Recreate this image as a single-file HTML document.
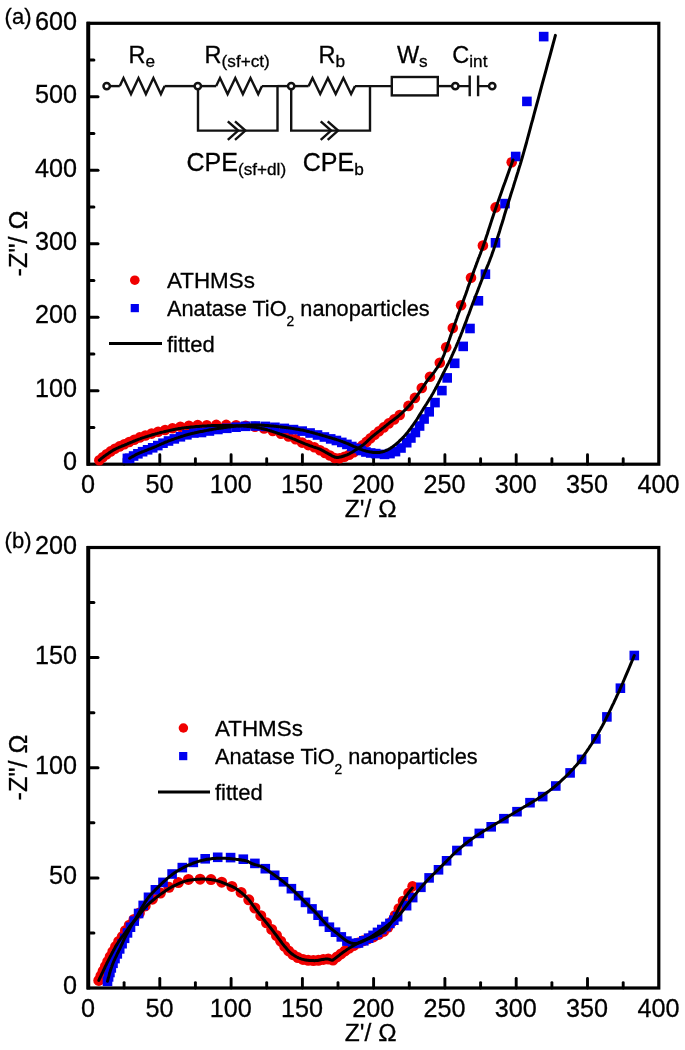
<!DOCTYPE html>
<html><head><meta charset="utf-8"><title>EIS Nyquist plots</title>
<style>
html,body{margin:0;padding:0;background:#fff;}
body{width:685px;height:1050px;overflow:hidden;font-family:"Liberation Sans",sans-serif;}
svg{display:block;will-change:transform;}
text{fill:#000;stroke:#000;stroke-width:0.3px;}
</style></head><body>
<svg width="685" height="1050" viewBox="0 0 685 1050">
<rect width="685" height="1050" fill="#fff"/>
<!-- axes -->
<rect x="88.5" y="23.3" width="570.3" height="440.9" fill="none" stroke="#000" stroke-width="3.2"/><line x1="88.2" y1="21.7" x2="88.2" y2="465.8" stroke="#000" stroke-width="3.9"/><text x="88.1" y="493.4" text-anchor="middle" font-size="25.2" font-family="Liberation Sans, sans-serif">0</text><line x1="124.1" y1="464.2" x2="124.1" y2="458.8" stroke="#000" stroke-width="2.9" stroke-linecap="round"/><line x1="159.8" y1="464.2" x2="159.8" y2="454.7" stroke="#000" stroke-width="2.9" stroke-linecap="round"/><text x="159.4" y="493.4" text-anchor="middle" font-size="25.2" font-family="Liberation Sans, sans-serif">50</text><line x1="195.4" y1="464.2" x2="195.4" y2="458.8" stroke="#000" stroke-width="2.9" stroke-linecap="round"/><line x1="231.1" y1="464.2" x2="231.1" y2="454.7" stroke="#000" stroke-width="2.9" stroke-linecap="round"/><text x="230.7" y="493.4" text-anchor="middle" font-size="25.2" font-family="Liberation Sans, sans-serif">100</text><line x1="266.7" y1="464.2" x2="266.7" y2="458.8" stroke="#000" stroke-width="2.9" stroke-linecap="round"/><line x1="302.4" y1="464.2" x2="302.4" y2="454.7" stroke="#000" stroke-width="2.9" stroke-linecap="round"/><text x="302.0" y="493.4" text-anchor="middle" font-size="25.2" font-family="Liberation Sans, sans-serif">150</text><line x1="338.0" y1="464.2" x2="338.0" y2="458.8" stroke="#000" stroke-width="2.9" stroke-linecap="round"/><line x1="373.6" y1="464.2" x2="373.6" y2="454.7" stroke="#000" stroke-width="2.9" stroke-linecap="round"/><text x="373.2" y="493.4" text-anchor="middle" font-size="25.2" font-family="Liberation Sans, sans-serif">200</text><line x1="409.3" y1="464.2" x2="409.3" y2="458.8" stroke="#000" stroke-width="2.9" stroke-linecap="round"/><line x1="444.9" y1="464.2" x2="444.9" y2="454.7" stroke="#000" stroke-width="2.9" stroke-linecap="round"/><text x="444.5" y="493.4" text-anchor="middle" font-size="25.2" font-family="Liberation Sans, sans-serif">250</text><line x1="480.6" y1="464.2" x2="480.6" y2="458.8" stroke="#000" stroke-width="2.9" stroke-linecap="round"/><line x1="516.2" y1="464.2" x2="516.2" y2="454.7" stroke="#000" stroke-width="2.9" stroke-linecap="round"/><text x="515.8" y="493.4" text-anchor="middle" font-size="25.2" font-family="Liberation Sans, sans-serif">300</text><line x1="551.9" y1="464.2" x2="551.9" y2="458.8" stroke="#000" stroke-width="2.9" stroke-linecap="round"/><line x1="587.5" y1="464.2" x2="587.5" y2="454.7" stroke="#000" stroke-width="2.9" stroke-linecap="round"/><text x="587.1" y="493.4" text-anchor="middle" font-size="25.2" font-family="Liberation Sans, sans-serif">350</text><line x1="623.2" y1="464.2" x2="623.2" y2="458.8" stroke="#000" stroke-width="2.9" stroke-linecap="round"/><text x="658.4" y="493.4" text-anchor="middle" font-size="25.2" font-family="Liberation Sans, sans-serif">400</text><text x="77.0" y="470.4" text-anchor="end" font-size="25.2" font-family="Liberation Sans, sans-serif">0</text><line x1="88.5" y1="427.5" x2="93.9" y2="427.5" stroke="#000" stroke-width="3.0" stroke-linecap="round"/><line x1="88.5" y1="390.7" x2="98.0" y2="390.7" stroke="#000" stroke-width="3.0" stroke-linecap="round"/><text x="77.0" y="396.9" text-anchor="end" font-size="25.2" font-family="Liberation Sans, sans-serif">100</text><line x1="88.5" y1="354.0" x2="93.9" y2="354.0" stroke="#000" stroke-width="3.0" stroke-linecap="round"/><line x1="88.5" y1="317.2" x2="98.0" y2="317.2" stroke="#000" stroke-width="3.0" stroke-linecap="round"/><text x="77.0" y="323.4" text-anchor="end" font-size="25.2" font-family="Liberation Sans, sans-serif">200</text><line x1="88.5" y1="280.5" x2="93.9" y2="280.5" stroke="#000" stroke-width="3.0" stroke-linecap="round"/><line x1="88.5" y1="243.8" x2="98.0" y2="243.8" stroke="#000" stroke-width="3.0" stroke-linecap="round"/><text x="77.0" y="249.9" text-anchor="end" font-size="25.2" font-family="Liberation Sans, sans-serif">300</text><line x1="88.5" y1="207.0" x2="93.9" y2="207.0" stroke="#000" stroke-width="3.0" stroke-linecap="round"/><line x1="88.5" y1="170.3" x2="98.0" y2="170.3" stroke="#000" stroke-width="3.0" stroke-linecap="round"/><text x="77.0" y="176.5" text-anchor="end" font-size="25.2" font-family="Liberation Sans, sans-serif">400</text><line x1="88.5" y1="133.5" x2="93.9" y2="133.5" stroke="#000" stroke-width="3.0" stroke-linecap="round"/><line x1="88.5" y1="96.8" x2="98.0" y2="96.8" stroke="#000" stroke-width="3.0" stroke-linecap="round"/><text x="77.0" y="103.0" text-anchor="end" font-size="25.2" font-family="Liberation Sans, sans-serif">500</text><line x1="88.5" y1="60.0" x2="93.9" y2="60.0" stroke="#000" stroke-width="3.0" stroke-linecap="round"/><text x="77.0" y="29.5" text-anchor="end" font-size="25.2" font-family="Liberation Sans, sans-serif">600</text>
<rect x="88.5" y="547.5" width="570.3" height="440.5" fill="none" stroke="#000" stroke-width="3.2"/><line x1="88.2" y1="545.9" x2="88.2" y2="989.6" stroke="#000" stroke-width="3.9"/><text x="88.1" y="1017.2" text-anchor="middle" font-size="25.2" font-family="Liberation Sans, sans-serif">0</text><line x1="124.1" y1="988.0" x2="124.1" y2="982.6" stroke="#000" stroke-width="2.9" stroke-linecap="round"/><line x1="159.8" y1="988.0" x2="159.8" y2="978.5" stroke="#000" stroke-width="2.9" stroke-linecap="round"/><text x="159.4" y="1017.2" text-anchor="middle" font-size="25.2" font-family="Liberation Sans, sans-serif">50</text><line x1="195.4" y1="988.0" x2="195.4" y2="982.6" stroke="#000" stroke-width="2.9" stroke-linecap="round"/><line x1="231.1" y1="988.0" x2="231.1" y2="978.5" stroke="#000" stroke-width="2.9" stroke-linecap="round"/><text x="230.7" y="1017.2" text-anchor="middle" font-size="25.2" font-family="Liberation Sans, sans-serif">100</text><line x1="266.7" y1="988.0" x2="266.7" y2="982.6" stroke="#000" stroke-width="2.9" stroke-linecap="round"/><line x1="302.4" y1="988.0" x2="302.4" y2="978.5" stroke="#000" stroke-width="2.9" stroke-linecap="round"/><text x="302.0" y="1017.2" text-anchor="middle" font-size="25.2" font-family="Liberation Sans, sans-serif">150</text><line x1="338.0" y1="988.0" x2="338.0" y2="982.6" stroke="#000" stroke-width="2.9" stroke-linecap="round"/><line x1="373.6" y1="988.0" x2="373.6" y2="978.5" stroke="#000" stroke-width="2.9" stroke-linecap="round"/><text x="373.2" y="1017.2" text-anchor="middle" font-size="25.2" font-family="Liberation Sans, sans-serif">200</text><line x1="409.3" y1="988.0" x2="409.3" y2="982.6" stroke="#000" stroke-width="2.9" stroke-linecap="round"/><line x1="444.9" y1="988.0" x2="444.9" y2="978.5" stroke="#000" stroke-width="2.9" stroke-linecap="round"/><text x="444.5" y="1017.2" text-anchor="middle" font-size="25.2" font-family="Liberation Sans, sans-serif">250</text><line x1="480.6" y1="988.0" x2="480.6" y2="982.6" stroke="#000" stroke-width="2.9" stroke-linecap="round"/><line x1="516.2" y1="988.0" x2="516.2" y2="978.5" stroke="#000" stroke-width="2.9" stroke-linecap="round"/><text x="515.8" y="1017.2" text-anchor="middle" font-size="25.2" font-family="Liberation Sans, sans-serif">300</text><line x1="551.9" y1="988.0" x2="551.9" y2="982.6" stroke="#000" stroke-width="2.9" stroke-linecap="round"/><line x1="587.5" y1="988.0" x2="587.5" y2="978.5" stroke="#000" stroke-width="2.9" stroke-linecap="round"/><text x="587.1" y="1017.2" text-anchor="middle" font-size="25.2" font-family="Liberation Sans, sans-serif">350</text><line x1="623.2" y1="988.0" x2="623.2" y2="982.6" stroke="#000" stroke-width="2.9" stroke-linecap="round"/><text x="658.4" y="1017.2" text-anchor="middle" font-size="25.2" font-family="Liberation Sans, sans-serif">400</text><text x="77.0" y="994.2" text-anchor="end" font-size="25.2" font-family="Liberation Sans, sans-serif">0</text><line x1="88.5" y1="932.9" x2="93.9" y2="932.9" stroke="#000" stroke-width="3.0" stroke-linecap="round"/><line x1="88.5" y1="877.9" x2="98.0" y2="877.9" stroke="#000" stroke-width="3.0" stroke-linecap="round"/><text x="77.0" y="884.1" text-anchor="end" font-size="25.2" font-family="Liberation Sans, sans-serif">50</text><line x1="88.5" y1="822.8" x2="93.9" y2="822.8" stroke="#000" stroke-width="3.0" stroke-linecap="round"/><line x1="88.5" y1="767.8" x2="98.0" y2="767.8" stroke="#000" stroke-width="3.0" stroke-linecap="round"/><text x="77.0" y="774.0" text-anchor="end" font-size="25.2" font-family="Liberation Sans, sans-serif">100</text><line x1="88.5" y1="712.7" x2="93.9" y2="712.7" stroke="#000" stroke-width="3.0" stroke-linecap="round"/><line x1="88.5" y1="657.6" x2="98.0" y2="657.6" stroke="#000" stroke-width="3.0" stroke-linecap="round"/><text x="77.0" y="663.8" text-anchor="end" font-size="25.2" font-family="Liberation Sans, sans-serif">150</text><line x1="88.5" y1="602.6" x2="93.9" y2="602.6" stroke="#000" stroke-width="3.0" stroke-linecap="round"/><text x="77.0" y="553.7" text-anchor="end" font-size="25.2" font-family="Liberation Sans, sans-serif">200</text>
<!-- plot a data -->
<g fill="#f00000"><circle cx="99.3" cy="460.3" r="5.3"/><circle cx="102.8" cy="457.3" r="5.3"/><circle cx="106.6" cy="454.3" r="5.3"/><circle cx="110.6" cy="451.4" r="5.3"/><circle cx="114.9" cy="448.7" r="5.3"/><circle cx="119.5" cy="446.4" r="5.3"/><circle cx="124.3" cy="444.3" r="5.3"/><circle cx="129.2" cy="442.0" r="5.3"/><circle cx="134.3" cy="439.8" r="5.3"/><circle cx="139.7" cy="437.4" r="5.3"/><circle cx="145.4" cy="435.5" r="5.3"/><circle cx="151.6" cy="433.6" r="5.3"/><circle cx="158.1" cy="431.7" r="5.3"/><circle cx="165.1" cy="430.0" r="5.3"/><circle cx="172.5" cy="428.3" r="5.3"/><circle cx="180.4" cy="426.8" r="5.3"/><circle cx="188.9" cy="425.8" r="5.3"/><circle cx="197.7" cy="425.0" r="5.3"/><circle cx="206.8" cy="425.3" r="5.3"/><circle cx="216.3" cy="424.9" r="5.3"/><circle cx="226.2" cy="424.9" r="5.3"/><circle cx="236.1" cy="425.2" r="5.3"/><circle cx="245.7" cy="425.7" r="5.3"/><circle cx="255.0" cy="426.7" r="5.3"/><circle cx="264.1" cy="428.5" r="5.3"/><circle cx="272.8" cy="431.0" r="5.3"/><circle cx="281.0" cy="433.8" r="5.3"/><circle cx="288.6" cy="436.5" r="5.3"/><circle cx="295.6" cy="439.3" r="5.3"/><circle cx="302.1" cy="442.6" r="5.3"/><circle cx="308.3" cy="445.1" r="5.3"/><circle cx="314.3" cy="447.2" r="5.3"/><circle cx="320.0" cy="450.2" r="5.3"/><circle cx="325.0" cy="452.9" r="5.3"/><circle cx="329.9" cy="455.5" r="5.3"/><circle cx="334.6" cy="458.0" r="5.3"/><circle cx="339.6" cy="458.2" r="5.3"/><circle cx="344.5" cy="456.8" r="5.3"/><circle cx="349.2" cy="454.8" r="5.3"/><circle cx="353.7" cy="452.2" r="5.3"/><circle cx="358.1" cy="448.4" r="5.3"/><circle cx="362.4" cy="445.4" r="5.3"/><circle cx="366.5" cy="441.9" r="5.3"/><circle cx="370.5" cy="438.2" r="5.3"/><circle cx="374.6" cy="434.7" r="5.3"/><circle cx="379.0" cy="431.2" r="5.3"/><circle cx="383.7" cy="427.4" r="5.3"/><circle cx="388.7" cy="423.4" r="5.3"/><circle cx="394.1" cy="419.4" r="5.3"/><circle cx="399.7" cy="415.0" r="5.3"/><circle cx="408.5" cy="405.9" r="5.3"/><circle cx="414.9" cy="397.9" r="5.3"/><circle cx="421.8" cy="388.0" r="5.3"/><circle cx="430.0" cy="376.7" r="5.3"/><circle cx="439.8" cy="362.8" r="5.3"/><circle cx="446.2" cy="347.2" r="5.3"/><circle cx="452.8" cy="328.1" r="5.3"/><circle cx="461.1" cy="305.3" r="5.3"/><circle cx="471.0" cy="277.7" r="5.3"/><circle cx="482.9" cy="245.6" r="5.3"/><circle cx="495.6" cy="207.4" r="5.3"/><circle cx="511.7" cy="162.2" r="5.3"/></g>
<g fill="#0000f0"><rect x="122.6" y="453.6" width="9.6" height="9.6"/><rect x="124.8" y="453.5" width="9.6" height="9.6"/><rect x="128.8" y="451.2" width="9.6" height="9.6"/><rect x="133.1" y="449.0" width="9.6" height="9.6"/><rect x="137.8" y="446.9" width="9.6" height="9.6"/><rect x="142.8" y="445.0" width="9.6" height="9.6"/><rect x="147.9" y="443.0" width="9.6" height="9.6"/><rect x="153.0" y="440.8" width="9.6" height="9.6"/><rect x="158.2" y="438.4" width="9.6" height="9.6"/><rect x="163.7" y="436.2" width="9.6" height="9.6"/><rect x="169.5" y="434.1" width="9.6" height="9.6"/><rect x="175.6" y="432.0" width="9.6" height="9.6"/><rect x="182.1" y="430.0" width="9.6" height="9.6"/><rect x="189.1" y="428.2" width="9.6" height="9.6"/><rect x="196.7" y="427.7" width="9.6" height="9.6"/><rect x="204.6" y="426.2" width="9.6" height="9.6"/><rect x="213.1" y="424.7" width="9.6" height="9.6"/><rect x="222.0" y="423.5" width="9.6" height="9.6"/><rect x="231.3" y="422.4" width="9.6" height="9.6"/><rect x="240.7" y="421.5" width="9.6" height="9.6"/><rect x="250.5" y="421.2" width="9.6" height="9.6"/><rect x="260.5" y="421.6" width="9.6" height="9.6"/><rect x="270.1" y="422.5" width="9.6" height="9.6"/><rect x="279.5" y="423.6" width="9.6" height="9.6"/><rect x="288.7" y="424.8" width="9.6" height="9.6"/><rect x="297.4" y="426.3" width="9.6" height="9.6"/><rect x="305.3" y="428.2" width="9.6" height="9.6"/><rect x="312.7" y="430.2" width="9.6" height="9.6"/><rect x="319.6" y="432.2" width="9.6" height="9.6"/><rect x="325.9" y="434.1" width="9.6" height="9.6"/><rect x="331.6" y="435.7" width="9.6" height="9.6"/><rect x="337.0" y="437.6" width="9.6" height="9.6"/><rect x="342.1" y="439.6" width="9.6" height="9.6"/><rect x="347.0" y="441.7" width="9.6" height="9.6"/><rect x="351.7" y="443.7" width="9.6" height="9.6"/><rect x="356.3" y="445.7" width="9.6" height="9.6"/><rect x="361.1" y="447.2" width="9.6" height="9.6"/><rect x="365.9" y="448.2" width="9.6" height="9.6"/><rect x="370.9" y="448.8" width="9.6" height="9.6"/><rect x="379.7" y="449.6" width="9.6" height="9.6"/><rect x="385.2" y="448.8" width="9.6" height="9.6"/><rect x="390.7" y="446.8" width="9.6" height="9.6"/><rect x="396.2" y="443.2" width="9.6" height="9.6"/><rect x="401.9" y="437.9" width="9.6" height="9.6"/><rect x="406.1" y="433.2" width="9.6" height="9.6"/><rect x="410.6" y="427.7" width="9.6" height="9.6"/><rect x="414.8" y="421.2" width="9.6" height="9.6"/><rect x="419.3" y="414.2" width="9.6" height="9.6"/><rect x="424.4" y="407.0" width="9.6" height="9.6"/><rect x="430.2" y="397.8" width="9.6" height="9.6"/><rect x="437.1" y="385.8" width="9.6" height="9.6"/><rect x="442.4" y="373.1" width="9.6" height="9.6"/><rect x="449.9" y="358.5" width="9.6" height="9.6"/><rect x="458.4" y="341.6" width="9.6" height="9.6"/><rect x="465.2" y="323.7" width="9.6" height="9.6"/><rect x="473.6" y="296.0" width="9.6" height="9.6"/><rect x="480.6" y="269.4" width="9.6" height="9.6"/><rect x="490.7" y="238.0" width="9.6" height="9.6"/><rect x="500.2" y="198.8" width="9.6" height="9.6"/><rect x="510.9" y="151.7" width="9.6" height="9.6"/><rect x="522.1" y="96.6" width="9.6" height="9.6"/><rect x="538.9" y="31.8" width="9.6" height="9.6"/></g>
<path d="M99.3 460.3L99.5 460.1L99.8 459.9L100.0 459.7L100.4 459.4L100.7 459.1L101.1 458.8L101.5 458.4L101.9 458.1L102.3 457.8L102.8 457.4L103.2 457.1L103.6 456.8L104.0 456.5L104.4 456.1L104.9 455.8L105.3 455.5L105.8 455.2L106.3 454.8L106.7 454.5L107.2 454.2L107.7 453.9L108.1 453.5L108.6 453.2L109.0 452.9L109.4 452.7L109.9 452.4L110.3 452.1L110.7 451.8L111.1 451.5L111.5 451.3L111.9 451.0L112.3 450.8L112.7 450.5L113.1 450.2L113.6 450.0L114.0 449.8L114.4 449.5L114.9 449.3L115.3 449.1L115.8 448.8L116.3 448.6L116.7 448.4L117.2 448.2L117.6 448.0L118.1 447.8L118.6 447.6L119.0 447.4L119.5 447.2L120.0 447.0L120.4 446.8L120.9 446.6L121.4 446.4L121.8 446.2L122.3 446.0L122.8 445.8L123.2 445.7L123.7 445.5L124.1 445.3L124.6 445.1L125.0 444.9L125.4 444.8L125.8 444.6L126.1 444.5L126.4 444.4L126.7 444.2L127.0 444.1L127.3 443.9L127.7 443.8L128.1 443.6L128.5 443.4L129.0 443.2L129.6 443.0L130.3 442.7L131.0 442.4L131.8 442.1L132.7 441.7L133.5 441.3L134.5 441.0L135.4 440.6L136.3 440.2L137.3 439.8L138.2 439.5L139.1 439.1L140.0 438.8L140.8 438.5L141.7 438.2L142.5 437.9L143.4 437.6L144.2 437.4L145.0 437.1L145.9 436.8L146.7 436.6L147.5 436.3L148.3 436.1L149.2 435.8L150.0 435.6L150.8 435.3L151.7 435.0L152.5 434.8L153.3 434.5L154.2 434.3L155.0 434.1L155.8 433.8L156.7 433.6L157.5 433.4L158.3 433.1L159.2 432.9L160.0 432.7L160.8 432.5L161.7 432.3L162.5 432.1L163.4 431.9L164.2 431.7L165.0 431.5L165.9 431.3L166.7 431.1L167.5 430.9L168.4 430.8L169.2 430.6L170.0 430.4L170.8 430.2L171.6 430.1L172.3 429.9L173.1 429.7L173.9 429.6L174.6 429.4L175.4 429.2L176.1 429.1L176.9 428.9L177.7 428.8L178.5 428.6L179.3 428.5L180.1 428.4L181.0 428.3L181.9 428.1L182.8 428.0L183.7 427.9L184.6 427.8L185.5 427.7L186.4 427.6L187.3 427.5L188.2 427.4L189.1 427.3L190.0 427.2L190.9 427.1L191.7 427.0L192.5 426.9L193.4 426.9L194.2 426.8L195.0 426.7L195.9 426.6L196.7 426.6L197.5 426.5L198.3 426.4L199.2 426.4L200.0 426.3L200.8 426.2L201.7 426.2L202.5 426.1L203.4 426.1L204.2 426.0L205.1 426.0L205.9 425.9L206.7 425.9L207.6 425.8L208.4 425.8L209.2 425.7L210.0 425.7L210.8 425.7L211.5 425.6L212.3 425.6L213.0 425.6L213.7 425.6L214.4 425.6L215.2 425.5L215.9 425.5L216.6 425.5L217.4 425.5L218.2 425.5L219.0 425.5L219.8 425.5L220.7 425.5L221.6 425.5L222.5 425.5L223.4 425.5L224.3 425.5L225.2 425.5L226.2 425.5L227.1 425.5L228.1 425.6L229.0 425.6L230.0 425.6L231.0 425.6L231.9 425.6L232.9 425.7L233.9 425.7L234.9 425.7L235.9 425.7L236.9 425.8L237.9 425.8L238.9 425.9L239.9 425.9L241.0 426.0L242.0 426.0L243.0 426.1L244.1 426.2L245.2 426.2L246.2 426.3L247.3 426.4L248.4 426.5L249.5 426.6L250.5 426.7L251.6 426.8L252.7 426.9L253.8 427.1L254.8 427.2L255.8 427.4L256.9 427.6L257.9 427.7L258.9 427.9L259.9 428.1L260.9 428.3L261.9 428.6L262.9 428.8L263.9 429.0L265.0 429.3L266.0 429.5L267.0 429.8L268.0 430.1L269.1 430.4L270.1 430.7L271.2 431.0L272.2 431.4L273.3 431.7L274.3 432.1L275.4 432.4L276.5 432.8L277.5 433.2L278.6 433.5L279.6 433.9L280.6 434.2L281.7 434.6L282.7 435.0L283.7 435.3L284.8 435.7L285.8 436.1L286.8 436.5L287.9 436.8L288.9 437.2L289.9 437.6L291.0 438.0L292.0 438.4L293.0 438.8L294.1 439.2L295.2 439.7L296.3 440.2L297.4 440.6L298.5 441.1L299.6 441.5L300.6 442.0L301.6 442.4L302.6 442.8L303.5 443.2L304.4 443.6L305.2 443.9L305.9 444.2L306.6 444.4L307.3 444.7L307.9 444.9L308.5 445.1L309.0 445.4L309.6 445.6L310.2 445.8L310.8 446.0L311.4 446.2L312.0 446.4L312.7 446.7L313.3 446.9L314.0 447.1L314.6 447.3L315.3 447.5L315.9 447.7L316.6 447.9L317.3 448.1L317.9 448.4L318.6 448.6L319.3 448.9L320.0 449.2L320.7 449.5L321.4 449.9L322.2 450.3L322.9 450.7L323.7 451.1L324.4 451.5L325.2 452.0L325.9 452.4L326.7 452.8L327.4 453.2L328.1 453.6L328.8 454.0L329.5 454.3L330.1 454.7L330.8 455.0L331.4 455.4L332.0 455.8L332.6 456.1L333.3 456.4L333.9 456.7L334.5 457.0L335.2 457.2L335.9 457.3L336.6 457.4L337.3 457.4L338.1 457.4L338.9 457.3L339.7 457.1L340.6 457.0L341.4 456.8L342.2 456.5L343.1 456.3L343.9 456.0L344.7 455.7L345.5 455.4L346.3 455.1L347.1 454.8L347.8 454.5L348.5 454.1L349.3 453.8L350.0 453.4L350.7 453.0L351.4 452.6L352.1 452.2L352.8 451.7L353.6 451.3L354.3 450.8L355.0 450.4L355.7 449.9L356.5 449.5L357.2 449.0L357.9 448.5L358.7 448.0L359.4 447.5L360.1 447.0L360.9 446.5L361.6 446.0L362.3 445.4L363.1 444.9L363.8 444.3L364.5 443.7L365.3 443.1L366.0 442.4L366.7 441.8L367.4 441.1L368.1 440.4L368.9 439.7L369.6 439.0L370.3 438.4L371.0 437.7L371.8 437.0L372.5 436.4L373.2 435.8L374.0 435.2L374.7 434.6L375.4 434.0L376.2 433.4L376.9 432.8L377.6 432.3L378.4 431.7L379.1 431.1L379.8 430.6L380.6 430.0L381.3 429.4L382.0 428.8L382.7 428.2L383.5 427.7L384.2 427.1L384.9 426.5L385.6 425.9L386.3 425.4L387.0 424.8L387.7 424.2L388.5 423.6L389.2 423.0L390.0 422.4L390.8 421.8L391.6 421.2L392.4 420.6L393.2 420.0L394.1 419.4L394.9 418.7L395.8 418.1L396.6 417.5L397.5 416.8L398.3 416.1L399.2 415.4L400.0 414.7L400.8 413.9L401.7 413.2L402.6 412.4L403.4 411.5L404.3 410.7L405.2 409.9L406.0 409.0L406.9 408.1L407.7 407.2L408.6 406.3L409.4 405.4L410.2 404.5L411.0 403.6L411.8 402.6L412.5 401.7L413.3 400.7L414.0 399.7L414.7 398.7L415.5 397.8L416.2 396.8L416.9 395.8L417.6 394.8L418.3 393.8L419.0 392.8L419.7 391.8L420.4 390.8L421.1 389.8L421.7 388.8L422.4 387.8L423.1 386.9L423.7 385.9L424.4 384.9L425.0 383.9L425.7 383.0L426.3 382.0L427.0 381.1L427.7 380.2L428.3 379.3L429.0 378.5L429.7 377.6L430.4 376.8L431.1 376.0L431.7 375.2L432.4 374.3L433.1 373.5L433.7 372.7L434.4 371.8L435.0 370.9L435.6 370.0L436.2 369.1L436.9 368.2L437.5 367.3L438.1 366.4L438.7 365.5L439.2 364.6L439.8 363.6L440.4 362.6L440.9 361.6L441.5 360.6L442.0 359.5L442.5 358.4L443.0 357.2L443.5 356.0L444.0 354.8L444.5 353.5L444.9 352.3L445.4 351.0L445.8 349.7L446.3 348.4L446.7 347.1L447.2 345.9L447.6 344.6L448.0 343.4L448.5 342.1L448.9 340.9L449.3 339.6L449.8 338.4L450.2 337.1L450.6 335.8L451.1 334.6L451.5 333.3L451.9 332.1L452.4 330.8L452.8 329.5L453.3 328.2L453.7 326.9L454.2 325.6L454.6 324.3L455.1 323.0L455.6 321.7L456.0 320.4L456.5 319.1L457.0 317.7L457.4 316.4L457.9 315.1L458.4 313.8L458.9 312.5L459.4 311.2L459.9 309.9L460.3 308.6L460.8 307.3L461.3 306.0L461.8 304.7L462.3 303.4L462.8 302.0L463.3 300.7L463.8 299.4L464.3 298.0L464.8 296.6L465.3 295.3L465.8 293.9L466.3 292.5L466.8 291.1L467.3 289.7L467.7 288.3L468.2 286.8L468.7 285.4L469.3 283.9L469.8 282.5L470.3 281.0L470.8 279.5L471.4 278.0L471.9 276.5L472.5 275.0L473.0 273.4L473.6 271.9L474.1 270.3L474.7 268.8L475.3 267.2L475.9 265.6L476.4 264.1L477.0 262.5L477.6 261.0L478.1 259.5L478.6 258.1L479.2 256.8L479.7 255.4L480.3 254.0L480.8 252.5L481.4 251.0L482.0 249.4L482.7 247.6L483.4 245.6L484.1 243.5L484.9 241.2L485.7 238.8L486.5 236.3L487.4 233.7L488.2 231.0L489.2 228.1L490.1 225.2L491.1 222.1L492.1 219.0L493.2 215.8L494.3 212.4L495.5 209.0L496.8 205.3L498.3 201.1L499.9 196.6L501.5 191.9L503.2 187.1L505.0 182.3L506.6 177.7L508.2 173.2L509.7 169.1L511.0 165.5L512.1 162.4L513.0 160.0" fill="none" stroke="#000" stroke-width="3.0" stroke-linejoin="round" stroke-linecap="round"/>
<path d="M129.6 458.3L129.9 458.2L130.2 458.0L130.5 457.7L130.9 457.5L131.4 457.2L131.9 456.9L132.4 456.7L132.9 456.4L133.4 456.1L133.9 455.8L134.5 455.5L135.0 455.2L135.5 454.9L136.0 454.7L136.5 454.4L137.0 454.2L137.5 454.0L138.1 453.7L138.6 453.5L139.2 453.2L139.8 452.9L140.5 452.6L141.2 452.3L142.0 452.0L142.8 451.7L143.8 451.3L144.7 450.9L145.8 450.5L146.8 450.1L147.9 449.7L149.0 449.2L150.1 448.8L151.2 448.4L152.3 447.9L153.4 447.5L154.4 447.1L155.4 446.7L156.4 446.3L157.3 445.8L158.3 445.4L159.2 445.0L160.1 444.5L161.1 444.1L162.0 443.7L163.0 443.3L164.0 442.8L165.0 442.4L166.0 442.0L167.1 441.6L168.1 441.2L169.2 440.7L170.4 440.3L171.5 439.9L172.6 439.5L173.8 439.1L174.9 438.7L176.0 438.3L177.2 437.9L178.2 437.6L179.3 437.2L180.3 436.9L181.3 436.5L182.3 436.2L183.3 435.9L184.2 435.6L185.2 435.3L186.1 435.0L187.1 434.8L188.0 434.5L189.0 434.2L190.0 434.0L191.0 433.7L192.0 433.4L193.1 433.2L194.2 433.0L195.3 432.7L196.4 432.5L197.5 432.3L198.6 432.0L199.7 431.8L200.8 431.6L201.9 431.4L202.9 431.2L204.0 431.0L205.0 430.8L206.0 430.6L207.0 430.4L208.0 430.2L209.0 430.0L210.0 429.8L211.0 429.7L212.0 429.5L213.0 429.3L214.0 429.1L215.0 429.0L216.0 428.8L217.0 428.6L218.1 428.5L219.2 428.3L220.3 428.2L221.3 428.0L222.4 427.9L223.5 427.7L224.6 427.6L225.7 427.4L226.8 427.3L227.9 427.1L229.0 427.0L230.1 426.9L231.2 426.7L232.3 426.6L233.3 426.5L234.4 426.3L235.5 426.2L236.6 426.1L237.7 426.0L238.8 425.9L239.8 425.8L240.9 425.7L242.0 425.6L243.1 425.5L244.2 425.4L245.2 425.4L246.3 425.3L247.4 425.2L248.4 425.2L249.5 425.1L250.6 425.1L251.6 425.1L252.7 425.0L253.8 425.0L254.8 425.0L255.8 425.0L256.9 425.0L257.9 425.0L258.9 425.1L259.9 425.1L260.9 425.1L261.9 425.2L262.9 425.2L263.9 425.3L265.0 425.4L266.0 425.4L267.0 425.5L268.0 425.6L269.1 425.7L270.1 425.8L271.2 425.9L272.2 426.0L273.3 426.1L274.3 426.2L275.4 426.3L276.5 426.4L277.5 426.6L278.6 426.7L279.6 426.8L280.6 426.9L281.7 427.0L282.7 427.2L283.7 427.3L284.8 427.4L285.8 427.5L286.8 427.7L287.9 427.8L288.9 428.0L289.9 428.1L291.0 428.2L292.0 428.4L293.0 428.6L294.0 428.7L295.0 428.9L296.0 429.0L297.0 429.2L298.0 429.3L299.0 429.5L300.0 429.7L301.1 429.9L302.1 430.1L303.3 430.3L304.4 430.6L305.6 430.9L306.9 431.2L308.2 431.5L309.6 431.9L311.0 432.2L312.4 432.6L313.8 433.0L315.2 433.4L316.5 433.7L317.8 434.1L318.9 434.4L320.0 434.7L321.0 435.0L321.9 435.2L322.7 435.5L323.4 435.7L324.2 435.9L324.8 436.1L325.5 436.3L326.1 436.5L326.8 436.7L327.4 436.9L328.1 437.1L328.8 437.3L329.5 437.5L330.3 437.7L331.0 437.9L331.7 438.1L332.4 438.4L333.1 438.6L333.9 438.8L334.6 439.0L335.3 439.2L336.0 439.4L336.8 439.7L337.5 439.9L338.2 440.1L339.0 440.4L339.7 440.6L340.4 440.9L341.2 441.2L341.9 441.4L342.6 441.7L343.4 442.0L344.1 442.2L344.8 442.5L345.6 442.8L346.3 443.1L347.0 443.4L347.8 443.7L348.5 444.0L349.2 444.3L349.9 444.7L350.6 445.0L351.4 445.3L352.1 445.6L352.8 446.0L353.5 446.3L354.3 446.6L355.0 446.9L355.7 447.2L356.5 447.5L357.2 447.8L357.9 448.1L358.7 448.5L359.4 448.8L360.1 449.1L360.9 449.4L361.6 449.6L362.3 449.9L363.1 450.2L363.8 450.4L364.5 450.6L365.3 450.8L366.0 451.0L366.8 451.2L367.5 451.4L368.3 451.6L369.0 451.7L369.7 451.9L370.4 452.0L371.1 452.1L371.8 452.2L372.5 452.3L373.1 452.4L373.8 452.4L374.4 452.5L375.0 452.5L375.5 452.6L376.1 452.6L376.7 452.6L377.2 452.6L377.8 452.6L378.4 452.5L378.9 452.5L379.5 452.4L380.1 452.3L380.7 452.2L381.2 452.1L381.8 452.0L382.4 451.8L383.0 451.7L383.6 451.5L384.2 451.3L384.7 451.1L385.3 450.9L385.9 450.7L386.5 450.4L387.1 450.1L387.7 449.8L388.3 449.5L388.9 449.2L389.5 448.8L390.1 448.5L390.6 448.1L391.2 447.7L391.8 447.3L392.4 446.9L393.0 446.4L393.6 446.0L394.2 445.6L394.8 445.1L395.4 444.6L395.9 444.1L396.5 443.7L397.1 443.1L397.7 442.6L398.3 442.1L398.9 441.6L399.4 441.0L400.0 440.5L400.6 439.9L401.2 439.3L401.7 438.8L402.3 438.2L402.9 437.6L403.4 437.1L404.0 436.5L404.6 435.8L405.2 435.2L405.7 434.5L406.3 433.8L407.0 433.1L407.6 432.3L408.3 431.5L408.9 430.6L409.6 429.6L410.4 428.7L411.1 427.7L411.8 426.7L412.6 425.6L413.3 424.6L414.0 423.5L414.7 422.5L415.4 421.5L416.1 420.5L416.8 419.5L417.4 418.5L418.0 417.6L418.6 416.6L419.2 415.6L419.8 414.6L420.4 413.7L421.0 412.7L421.6 411.7L422.2 410.7L422.8 409.8L423.4 408.8L424.0 407.8L424.6 406.9L425.2 405.9L425.9 404.9L426.5 404.0L427.1 403.0L427.7 402.0L428.3 401.1L428.9 400.1L429.5 399.1L430.1 398.2L430.7 397.2L431.3 396.2L431.8 395.3L432.4 394.3L432.9 393.4L433.5 392.4L434.0 391.4L434.5 390.5L435.1 389.5L435.6 388.5L436.1 387.5L436.7 386.5L437.2 385.5L437.7 384.5L438.3 383.4L438.8 382.3L439.4 381.2L439.9 380.1L440.5 379.0L441.0 377.9L441.6 376.7L442.1 375.6L442.7 374.5L443.2 373.4L443.8 372.3L444.4 371.2L444.9 370.1L445.5 369.1L446.0 368.0L446.6 366.9L447.1 365.8L447.7 364.8L448.2 363.7L448.8 362.6L449.3 361.5L449.9 360.3L450.4 359.2L450.9 358.0L451.5 356.9L452.0 355.7L452.6 354.4L453.1 353.2L453.7 352.0L454.2 350.8L454.8 349.5L455.3 348.3L455.9 347.1L456.4 345.8L456.9 344.6L457.4 343.4L457.9 342.3L458.3 341.2L458.8 340.1L459.2 339.0L459.7 337.9L460.1 336.8L460.6 335.6L461.1 334.3L461.6 333.0L462.2 331.6L462.8 330.0L463.4 328.3L464.1 326.5L464.8 324.6L465.6 322.6L466.4 320.6L467.1 318.5L467.9 316.3L468.8 314.1L469.6 312.0L470.4 309.8L471.2 307.6L472.0 305.5L472.8 303.4L473.6 301.3L474.4 299.2L475.2 297.1L476.0 295.0L476.9 292.8L477.7 290.7L478.5 288.5L479.4 286.3L480.2 284.1L481.1 281.8L482.0 279.5L482.9 277.2L483.8 275.0L484.7 272.8L485.6 270.6L486.5 268.4L487.4 266.1L488.4 263.8L489.4 261.3L490.3 258.8L491.4 256.0L492.4 253.1L493.5 250.0L494.6 246.6L495.8 243.0L497.0 239.2L498.3 235.3L499.6 231.2L500.8 227.0L502.2 222.7L503.5 218.5L504.7 214.2L506.0 210.0L507.3 206.0L508.5 202.0L509.7 198.2L510.9 194.3L512.1 190.6L513.3 186.9L514.4 183.1L515.6 179.4L516.7 175.7L517.9 172.0L519.0 168.3L520.2 164.6L521.3 160.8L522.4 157.0L523.5 153.2L524.5 149.6L525.5 146.0L526.5 142.5L527.4 139.0L528.4 135.3L529.4 131.6L530.4 127.8L531.5 123.7L532.7 119.5L533.9 114.9L535.2 110.0L536.7 104.5L538.4 98.3L540.2 91.5L542.1 84.4L544.1 77.1L546.1 69.8L548.0 62.6L549.9 55.8L551.6 49.5L553.1 43.8L554.4 39.1L555.4 35.4" fill="none" stroke="#000" stroke-width="3.0" stroke-linejoin="round" stroke-linecap="round"/>
<!-- plot b data -->
<g fill="#f00000"><circle cx="98.8" cy="980.4" r="5.5"/><circle cx="100.9" cy="975.9" r="5.5"/><circle cx="103.1" cy="971.2" r="5.5"/><circle cx="105.4" cy="966.5" r="5.5"/><circle cx="107.7" cy="961.6" r="5.5"/><circle cx="110.2" cy="956.7" r="5.5"/><circle cx="112.8" cy="951.7" r="5.5"/><circle cx="115.6" cy="946.6" r="5.5"/><circle cx="118.7" cy="941.5" r="5.5"/><circle cx="122.3" cy="936.6" r="5.5"/><circle cx="125.4" cy="930.7" r="5.5"/><circle cx="129.3" cy="925.2" r="5.5"/><circle cx="134.0" cy="919.5" r="5.5"/><circle cx="139.4" cy="913.0" r="5.5"/><circle cx="145.2" cy="905.9" r="5.5"/><circle cx="152.4" cy="899.2" r="5.5"/><circle cx="160.4" cy="893.0" r="5.5"/><circle cx="169.0" cy="887.3" r="5.5"/><circle cx="178.3" cy="882.6" r="5.5"/><circle cx="188.4" cy="879.4" r="5.5"/><circle cx="200.1" cy="879.2" r="5.5"/><circle cx="211.0" cy="879.6" r="5.5"/><circle cx="221.7" cy="882.2" r="5.5"/><circle cx="231.9" cy="886.4" r="5.5"/><circle cx="241.1" cy="892.4" r="5.5"/><circle cx="248.8" cy="899.8" r="5.5"/><circle cx="254.9" cy="908.0" r="5.5"/><circle cx="260.8" cy="915.7" r="5.5"/><circle cx="266.5" cy="922.8" r="5.5"/><circle cx="271.7" cy="929.4" r="5.5"/><circle cx="276.5" cy="935.5" r="5.5"/><circle cx="280.7" cy="941.2" r="5.5"/><circle cx="284.7" cy="946.4" r="5.5"/><circle cx="288.6" cy="950.9" r="5.5"/><circle cx="293.0" cy="954.7" r="5.5"/><circle cx="297.9" cy="957.6" r="5.5"/><circle cx="303.0" cy="959.4" r="5.5"/><circle cx="308.2" cy="960.3" r="5.5"/><circle cx="313.4" cy="960.6" r="5.5"/><circle cx="318.4" cy="960.3" r="5.5"/><circle cx="323.3" cy="959.4" r="5.5"/><circle cx="328.3" cy="959.1" r="5.5"/><circle cx="333.0" cy="960.0" r="5.5"/><circle cx="337.0" cy="956.9" r="5.5"/><circle cx="341.0" cy="953.9" r="5.5"/><circle cx="345.0" cy="950.9" r="5.5"/><circle cx="349.2" cy="948.2" r="5.5"/><circle cx="353.6" cy="945.6" r="5.5"/><circle cx="358.2" cy="943.1" r="5.5"/><circle cx="363.0" cy="940.8" r="5.5"/><circle cx="368.1" cy="938.8" r="5.5"/><circle cx="373.4" cy="936.9" r="5.5"/><circle cx="378.6" cy="934.4" r="5.5"/><circle cx="383.6" cy="931.4" r="5.5"/><circle cx="387.9" cy="927.3" r="5.5"/><circle cx="391.7" cy="921.8" r="5.5"/><circle cx="395.2" cy="915.5" r="5.5"/><circle cx="398.7" cy="908.4" r="5.2"/><circle cx="402.9" cy="900.9" r="5.2"/><circle cx="408.4" cy="893.0" r="5.2"/><circle cx="412.5" cy="886.3" r="5.2"/></g>
<g fill="#0000f0"><rect x="102.7" y="976.5" width="9.6" height="9.6"/><rect x="103.8" y="972.1" width="9.6" height="9.6"/><rect x="105.1" y="967.7" width="9.6" height="9.6"/><rect x="106.5" y="963.1" width="9.6" height="9.6"/><rect x="108.2" y="958.5" width="9.6" height="9.6"/><rect x="110.2" y="953.8" width="9.6" height="9.6"/><rect x="112.5" y="949.1" width="9.6" height="9.6"/><rect x="114.9" y="944.1" width="9.6" height="9.6"/><rect x="117.3" y="938.9" width="9.6" height="9.6"/><rect x="119.8" y="933.5" width="9.6" height="9.6"/><rect x="122.7" y="928.1" width="9.6" height="9.6"/><rect x="125.7" y="922.4" width="9.6" height="9.6"/><rect x="129.4" y="916.3" width="9.6" height="9.6"/><rect x="133.8" y="908.7" width="9.6" height="9.6"/><rect x="138.4" y="900.6" width="9.6" height="9.6"/><rect x="143.7" y="892.5" width="9.6" height="9.6"/><rect x="150.6" y="885.0" width="9.6" height="9.6"/><rect x="158.2" y="877.6" width="9.6" height="9.6"/><rect x="167.3" y="869.2" width="9.6" height="9.6"/><rect x="177.5" y="862.8" width="9.6" height="9.6"/><rect x="188.5" y="857.6" width="9.6" height="9.6"/><rect x="200.4" y="854.0" width="9.6" height="9.6"/><rect x="212.9" y="852.5" width="9.6" height="9.6"/><rect x="225.8" y="852.8" width="9.6" height="9.6"/><rect x="238.5" y="854.4" width="9.6" height="9.6"/><rect x="250.1" y="858.6" width="9.6" height="9.6"/><rect x="260.5" y="863.9" width="9.6" height="9.6"/><rect x="269.9" y="870.5" width="9.6" height="9.6"/><rect x="278.7" y="877.0" width="9.6" height="9.6"/><rect x="286.6" y="883.9" width="9.6" height="9.6"/><rect x="293.8" y="890.9" width="9.6" height="9.6"/><rect x="300.7" y="897.6" width="9.6" height="9.6"/><rect x="307.2" y="904.1" width="9.6" height="9.6"/><rect x="313.3" y="910.4" width="9.6" height="9.6"/><rect x="318.8" y="916.7" width="9.6" height="9.6"/><rect x="324.6" y="922.4" width="9.6" height="9.6"/><rect x="330.7" y="927.4" width="9.6" height="9.6"/><rect x="336.5" y="932.1" width="9.6" height="9.6"/><rect x="342.1" y="936.3" width="9.6" height="9.6"/><rect x="347.9" y="938.6" width="9.6" height="9.6"/><rect x="353.7" y="938.2" width="9.6" height="9.6"/><rect x="359.0" y="936.0" width="9.6" height="9.6"/><rect x="363.8" y="933.4" width="9.6" height="9.6"/><rect x="368.3" y="930.6" width="9.6" height="9.6"/><rect x="372.7" y="927.6" width="9.6" height="9.6"/><rect x="377.0" y="924.7" width="9.6" height="9.6"/><rect x="381.1" y="921.7" width="9.6" height="9.6"/><rect x="385.1" y="918.6" width="9.6" height="9.6"/><rect x="389.0" y="915.4" width="9.6" height="9.6"/><rect x="392.8" y="911.9" width="9.6" height="9.6"/><rect x="401.8" y="900.9" width="9.6" height="9.6"/><rect x="407.9" y="892.8" width="9.6" height="9.6"/><rect x="416.1" y="882.5" width="9.6" height="9.6"/><rect x="424.3" y="873.1" width="9.6" height="9.6"/><rect x="433.7" y="865.0" width="9.6" height="9.6"/><rect x="441.8" y="856.0" width="9.6" height="9.6"/><rect x="452.1" y="845.7" width="9.6" height="9.6"/><rect x="463.1" y="836.8" width="9.6" height="9.6"/><rect x="474.5" y="828.6" width="9.6" height="9.6"/><rect x="486.4" y="822.0" width="9.6" height="9.6"/><rect x="499.1" y="813.9" width="9.6" height="9.6"/><rect x="512.2" y="806.9" width="9.6" height="9.6"/><rect x="525.2" y="797.9" width="9.6" height="9.6"/><rect x="537.9" y="791.8" width="9.6" height="9.6"/><rect x="551.0" y="781.2" width="9.6" height="9.6"/><rect x="565.3" y="768.1" width="9.6" height="9.6"/><rect x="576.8" y="754.6" width="9.6" height="9.6"/><rect x="591.1" y="734.1" width="9.6" height="9.6"/><rect x="602.1" y="712.1" width="9.6" height="9.6"/><rect x="615.6" y="683.4" width="9.6" height="9.6"/><rect x="629.5" y="650.7" width="9.6" height="9.6"/></g>
<path d="M98.8 980.4L99.0 980.0L99.3 979.4L99.5 978.8L99.9 978.1L100.2 977.4L100.6 976.5L101.0 975.7L101.4 974.8L101.8 974.0L102.2 973.1L102.6 972.3L103.0 971.5L103.4 970.7L103.7 969.9L104.1 969.1L104.5 968.3L104.9 967.5L105.2 966.7L105.6 965.9L106.0 965.1L106.4 964.3L106.7 963.5L107.1 962.8L107.5 962.0L107.9 961.2L108.3 960.5L108.6 959.8L109.0 959.0L109.4 958.3L109.8 957.6L110.1 956.8L110.5 956.1L110.9 955.4L111.3 954.7L111.6 954.0L112.0 953.3L112.4 952.6L112.7 951.9L113.1 951.2L113.4 950.6L113.8 949.9L114.2 949.2L114.5 948.6L114.9 947.9L115.2 947.3L115.6 946.6L115.9 946.0L116.3 945.4L116.7 944.8L117.0 944.2L117.4 943.6L117.7 943.1L118.1 942.5L118.4 942.0L118.8 941.4L119.2 940.9L119.5 940.4L119.9 939.8L120.2 939.3L120.6 938.8L121.0 938.3L121.3 937.8L121.7 937.4L122.0 936.9L122.3 936.5L122.7 936.1L123.0 935.6L123.4 935.2L123.8 934.7L124.2 934.2L124.6 933.7L125.0 933.1L125.5 932.5L125.9 931.8L126.4 931.1L126.9 930.4L127.5 929.7L128.0 928.9L128.5 928.1L129.1 927.4L129.6 926.6L130.1 925.9L130.7 925.2L131.2 924.5L131.7 923.9L132.2 923.3L132.7 922.7L133.2 922.1L133.7 921.6L134.1 921.0L134.6 920.5L135.2 919.9L135.7 919.3L136.3 918.7L136.9 918.0L137.5 917.2L138.2 916.4L138.9 915.5L139.6 914.6L140.3 913.6L141.1 912.6L141.9 911.6L142.7 910.6L143.5 909.5L144.3 908.5L145.2 907.5L146.1 906.5L147.0 905.6L147.9 904.7L148.9 903.8L149.9 902.8L150.9 901.9L152.0 901.1L153.0 900.2L154.1 899.3L155.2 898.4L156.2 897.6L157.3 896.8L158.4 896.0L159.4 895.2L160.4 894.4L161.5 893.6L162.5 892.9L163.5 892.2L164.6 891.5L165.6 890.8L166.6 890.1L167.7 889.4L168.7 888.8L169.7 888.1L170.8 887.5L171.8 886.9L172.8 886.4L173.9 885.8L175.0 885.3L176.1 884.8L177.1 884.3L178.2 883.8L179.3 883.3L180.3 882.9L181.4 882.5L182.4 882.1L183.3 881.7L184.3 881.4L185.2 881.1L186.1 880.9L186.9 880.7L187.7 880.5L188.5 880.3L189.3 880.2L190.1 880.1L190.9 880.0L191.7 879.9L192.5 879.8L193.3 879.7L194.2 879.6L195.1 879.5L196.0 879.4L196.9 879.3L197.8 879.3L198.7 879.2L199.7 879.2L200.6 879.1L201.5 879.1L202.5 879.1L203.4 879.1L204.4 879.1L205.3 879.2L206.2 879.2L207.2 879.3L208.1 879.3L209.1 879.4L210.0 879.5L211.0 879.6L211.9 879.8L212.9 879.9L213.8 880.0L214.7 880.2L215.6 880.4L216.5 880.6L217.4 880.8L218.2 881.1L219.1 881.3L219.9 881.6L220.7 881.9L221.5 882.2L222.3 882.5L223.1 882.8L223.9 883.1L224.8 883.5L225.6 883.8L226.4 884.1L227.2 884.5L228.0 884.8L228.9 885.1L229.7 885.5L230.5 885.8L231.3 886.2L232.2 886.5L233.0 886.9L233.8 887.4L234.7 887.8L235.5 888.3L236.4 888.9L237.3 889.5L238.2 890.2L239.2 890.9L240.1 891.7L241.1 892.4L242.1 893.2L243.0 894.1L244.0 894.9L244.9 895.7L245.8 896.6L246.6 897.4L247.4 898.2L248.1 899.0L248.9 899.8L249.5 900.6L250.2 901.5L250.8 902.3L251.4 903.1L252.0 903.9L252.5 904.8L253.1 905.6L253.7 906.4L254.3 907.2L254.9 908.0L255.5 908.9L256.1 909.7L256.8 910.5L257.4 911.3L258.0 912.1L258.6 912.9L259.2 913.7L259.8 914.5L260.4 915.3L261.1 916.0L261.7 916.8L262.3 917.6L262.9 918.4L263.5 919.2L264.2 920.0L264.8 920.7L265.4 921.5L266.1 922.3L266.7 923.1L267.3 923.8L267.9 924.6L268.6 925.4L269.2 926.2L269.8 926.9L270.4 927.7L271.0 928.5L271.7 929.3L272.3 930.1L272.9 930.9L273.5 931.7L274.1 932.5L274.7 933.3L275.3 934.1L276.0 934.9L276.6 935.7L277.2 936.5L277.8 937.3L278.4 938.2L279.1 939.0L279.7 939.9L280.3 940.7L280.9 941.6L281.6 942.4L282.2 943.3L282.8 944.1L283.5 944.9L284.1 945.7L284.7 946.4L285.3 947.1L285.9 947.8L286.5 948.5L287.1 949.2L287.7 949.9L288.2 950.5L288.8 951.2L289.5 951.8L290.1 952.4L290.7 952.9L291.4 953.5L292.1 954.0L292.8 954.6L293.6 955.1L294.3 955.6L295.1 956.1L295.9 956.5L296.7 957.0L297.6 957.4L298.4 957.8L299.3 958.2L300.2 958.5L301.1 958.9L302.0 959.2L302.9 959.4L303.9 959.6L304.9 959.9L305.9 960.0L307.0 960.2L308.0 960.3L309.1 960.4L310.2 960.5L311.2 960.6L312.3 960.6L313.4 960.6L314.4 960.7L315.5 960.6L316.6 960.5L317.7 960.4L318.8 960.2L319.9 960.0L321.1 959.8L322.2 959.6L323.2 959.5L324.2 959.3L325.2 959.1L326.0 959.0L326.8 959.0L327.5 959.0L328.1 959.1L328.6 959.2L329.1 959.3L329.5 959.4L329.9 959.6L330.3 959.7L330.6 959.9L330.9 960.0L331.2 960.1L331.5 960.2L331.8 960.2L332.1 960.2L332.3 960.2L332.4 960.2L332.5 960.2L332.6 960.2L332.7 960.1L332.9 960.1L333.0 960.0L333.2 959.8L333.5 959.6L333.8 959.3L334.3 959.0L334.9 958.6L335.5 958.1L336.3 957.5L337.1 956.9L337.9 956.3L338.8 955.6L339.7 954.9L340.6 954.1L341.6 953.4L342.5 952.7L343.4 952.1L344.2 951.5L345.0 950.9L345.8 950.4L346.7 949.8L347.5 949.3L348.3 948.8L349.1 948.2L350.0 947.7L350.8 947.2L351.6 946.7L352.4 946.2L353.3 945.8L354.1 945.3L354.9 944.8L355.8 944.4L356.6 943.9L357.4 943.5L358.3 943.1L359.1 942.6L359.9 942.2L360.8 941.8L361.6 941.4L362.4 941.0L363.3 940.7L364.1 940.3L364.9 940.0L365.8 939.6L366.6 939.3L367.4 939.0L368.2 938.8L369.1 938.5L369.9 938.2L370.7 937.9L371.5 937.6L372.4 937.3L373.2 937.0L374.0 936.6L374.8 936.2L375.7 935.8L376.6 935.4L377.4 935.0L378.3 934.5L379.2 934.1L380.0 933.6L380.9 933.2L381.7 932.7L382.5 932.2L383.2 931.7L383.9 931.2L384.5 930.7L385.1 930.2L385.7 929.7L386.2 929.2L386.7 928.7L387.2 928.2L387.7 927.6L388.1 927.1L388.6 926.5L389.0 925.9L389.5 925.2L390.0 924.5L390.5 923.8L391.0 922.9L391.6 922.1L392.1 921.2L392.6 920.3L393.1 919.3L393.6 918.4L394.1 917.5L394.6 916.6L395.1 915.7L395.6 914.8L396.0 914.0L396.4 913.2L396.8 912.5L397.1 911.8L397.5 911.1L397.8 910.4L398.1 909.8L398.4 909.1L398.7 908.5L399.0 907.8L399.4 907.2L399.7 906.5L400.1 905.8L400.5 905.1L400.9 904.4L401.3 903.7L401.7 903.0L402.1 902.3L402.5 901.6L403.0 900.8L403.4 900.1L403.8 899.4L404.3 898.7L404.8 897.9L405.3 897.2L405.8 896.4L406.4 895.6L407.1 894.7L407.8 893.8L408.4 892.9L409.1 892.1L409.8 891.2L410.4 890.4L411.0 889.7L411.5 889.0L412.0 888.4L412.3 888.0" fill="none" stroke="#000" stroke-width="3.0" stroke-linejoin="round" stroke-linecap="round"/>
<path d="M107.5 981.3L107.6 980.8L107.8 980.3L107.9 979.6L108.1 978.8L108.3 978.0L108.6 977.2L108.8 976.3L109.1 975.4L109.3 974.5L109.5 973.6L109.8 972.8L110.0 972.0L110.2 971.3L110.4 970.6L110.7 969.8L110.9 969.1L111.1 968.4L111.4 967.7L111.6 967.1L111.8 966.4L112.1 965.7L112.3 965.1L112.6 964.4L112.8 963.8L113.0 963.2L113.3 962.6L113.5 962.0L113.8 961.4L114.0 960.8L114.3 960.3L114.5 959.7L114.8 959.2L115.0 958.6L115.3 958.1L115.5 957.5L115.8 957.0L116.1 956.5L116.3 955.9L116.6 955.4L116.8 954.8L117.1 954.3L117.3 953.8L117.6 953.3L117.9 952.7L118.1 952.2L118.4 951.7L118.6 951.1L118.9 950.6L119.2 950.1L119.4 949.5L119.7 949.0L119.9 948.4L120.2 947.9L120.5 947.3L120.7 946.8L121.0 946.2L121.2 945.6L121.5 945.1L121.7 944.5L122.0 944.0L122.3 943.5L122.5 942.9L122.7 942.4L123.0 941.8L123.2 941.3L123.5 940.7L123.7 940.2L124.0 939.7L124.2 939.1L124.5 938.6L124.7 938.0L125.0 937.5L125.3 937.0L125.6 936.4L125.8 935.9L126.1 935.3L126.4 934.8L126.7 934.3L127.0 933.7L127.3 933.2L127.6 932.6L127.9 932.1L128.2 931.5L128.5 931.0L128.8 930.4L129.1 929.9L129.4 929.3L129.7 928.8L130.0 928.2L130.2 927.6L130.5 927.1L130.8 926.5L131.1 926.0L131.4 925.4L131.7 924.9L132.0 924.4L132.3 924.0L132.5 923.6L132.7 923.3L132.9 923.0L133.1 922.8L133.2 922.5L133.5 922.2L133.7 921.8L134.1 921.3L134.5 920.7L134.9 919.9L135.5 919.0L136.2 917.8L136.9 916.5L137.8 914.9L138.7 913.3L139.7 911.5L140.7 909.7L141.7 907.8L142.8 906.0L143.9 904.2L144.9 902.4L146.0 900.8L147.0 899.4L148.0 898.0L149.0 896.7L150.0 895.5L151.1 894.3L152.1 893.2L153.1 892.1L154.2 891.0L155.2 889.9L156.3 888.9L157.3 887.9L158.4 886.9L159.4 885.9L160.4 884.8L161.5 883.8L162.5 882.8L163.5 881.9L164.6 880.9L165.6 880.0L166.6 879.0L167.7 878.1L168.7 877.3L169.7 876.4L170.8 875.6L171.8 874.8L172.8 874.0L173.9 873.3L174.9 872.6L176.0 871.9L177.0 871.3L178.1 870.6L179.1 870.0L180.1 869.4L181.2 868.9L182.2 868.3L183.3 867.7L184.3 867.2L185.3 866.7L186.4 866.2L187.4 865.7L188.4 865.2L189.5 864.7L190.5 864.3L191.5 863.8L192.6 863.4L193.6 863.0L194.6 862.6L195.7 862.3L196.7 861.9L197.7 861.6L198.8 861.3L199.8 861.0L200.8 860.7L201.9 860.4L202.9 860.2L203.9 859.9L205.0 859.7L206.0 859.5L207.0 859.3L208.1 859.2L209.1 859.0L210.1 858.9L211.2 858.7L212.2 858.6L213.2 858.5L214.3 858.4L215.3 858.4L216.3 858.3L217.4 858.3L218.4 858.2L219.4 858.2L220.5 858.2L221.5 858.2L222.5 858.2L223.6 858.2L224.6 858.2L225.6 858.3L226.7 858.4L227.7 858.4L228.7 858.5L229.8 858.6L230.8 858.7L231.8 858.8L232.9 858.9L233.9 859.0L235.0 859.1L236.0 859.3L237.1 859.4L238.3 859.5L239.4 859.7L240.5 859.8L241.6 860.0L242.6 860.2L243.6 860.3L244.6 860.5L245.5 860.7L246.3 860.9L247.0 861.1L247.6 861.3L248.2 861.5L248.7 861.8L249.1 862.0L249.5 862.3L249.9 862.5L250.3 862.8L250.8 863.0L251.3 863.3L251.8 863.5L252.4 863.8L253.1 864.0L253.8 864.2L254.6 864.5L255.4 864.7L256.2 864.9L257.1 865.1L257.9 865.4L258.8 865.6L259.6 865.9L260.5 866.2L261.2 866.5L262.0 866.8L262.7 867.2L263.4 867.5L264.1 867.9L264.8 868.4L265.5 868.8L266.1 869.3L266.8 869.7L267.4 870.2L268.1 870.6L268.7 871.1L269.4 871.6L270.0 872.0L270.6 872.4L271.3 872.9L271.9 873.3L272.5 873.7L273.1 874.2L273.8 874.6L274.4 875.0L275.0 875.5L275.6 875.9L276.2 876.4L276.9 876.8L277.5 877.3L278.1 877.8L278.8 878.2L279.4 878.7L280.1 879.2L280.7 879.7L281.4 880.2L282.0 880.7L282.7 881.2L283.4 881.7L284.0 882.2L284.7 882.8L285.3 883.3L285.9 883.8L286.6 884.4L287.2 884.9L287.9 885.5L288.5 886.1L289.2 886.7L289.8 887.2L290.4 887.8L291.1 888.4L291.7 889.0L292.4 889.6L293.0 890.2L293.6 890.8L294.3 891.4L294.9 892.0L295.5 892.6L296.2 893.2L296.8 893.9L297.4 894.5L298.1 895.1L298.7 895.7L299.3 896.3L300.0 897.0L300.6 897.6L301.2 898.2L301.9 898.9L302.5 899.5L303.2 900.1L303.8 900.7L304.4 901.4L305.1 902.0L305.7 902.7L306.4 903.3L307.0 903.9L307.7 904.6L308.3 905.2L308.9 905.8L309.5 906.4L310.1 907.0L310.7 907.6L311.3 908.2L311.9 908.8L312.5 909.4L313.2 910.0L313.8 910.6L314.5 911.3L315.2 912.1L316.0 912.9L316.8 913.8L317.7 914.7L318.6 915.7L319.5 916.8L320.5 917.9L321.4 919.0L322.4 920.1L323.4 921.2L324.4 922.3L325.3 923.3L326.3 924.3L327.2 925.2L328.1 926.1L329.0 926.9L329.9 927.7L330.9 928.5L331.8 929.2L332.7 929.9L333.6 930.6L334.5 931.3L335.3 932.0L336.1 932.6L336.9 933.2L337.6 933.8L338.3 934.4L338.9 934.9L339.5 935.4L340.1 935.9L340.6 936.3L341.1 936.7L341.6 937.1L342.1 937.5L342.6 937.9L343.1 938.3L343.5 938.6L344.0 939.0L344.5 939.3L344.9 939.7L345.4 940.0L345.8 940.3L346.2 940.6L346.6 940.8L347.0 941.1L347.4 941.3L347.8 941.6L348.2 941.8L348.6 942.0L349.0 942.2L349.4 942.4L349.8 942.5L350.2 942.7L350.5 942.8L350.9 943.0L351.3 943.1L351.7 943.2L352.0 943.3L352.4 943.3L352.8 943.4L353.1 943.5L353.5 943.5L353.9 943.5L354.2 943.5L354.6 943.6L355.0 943.5L355.3 943.5L355.7 943.5L356.1 943.5L356.5 943.4L356.8 943.3L357.2 943.3L357.6 943.2L358.0 943.1L358.4 943.0L358.8 942.9L359.2 942.8L359.6 942.6L359.9 942.5L360.3 942.4L360.7 942.2L361.2 942.0L361.6 941.8L362.0 941.6L362.5 941.4L363.0 941.2L363.5 941.0L364.0 940.7L364.6 940.4L365.1 940.2L365.7 939.9L366.2 939.6L366.8 939.2L367.4 938.9L368.1 938.5L368.7 938.2L369.3 937.8L370.0 937.4L370.7 937.0L371.4 936.5L372.1 936.1L372.8 935.6L373.6 935.1L374.3 934.6L375.1 934.1L375.9 933.6L376.6 933.0L377.4 932.5L378.2 931.9L379.0 931.4L379.8 930.8L380.6 930.3L381.4 929.7L382.2 929.1L383.1 928.6L383.9 928.0L384.7 927.4L385.6 926.8L386.4 926.1L387.2 925.5L388.1 924.9L388.9 924.2L389.7 923.5L390.6 922.9L391.4 922.2L392.3 921.5L393.1 920.7L394.0 920.0L394.8 919.3L395.7 918.5L396.5 917.8L397.3 917.0L398.0 916.3L398.8 915.5L399.5 914.7L400.2 913.9L400.9 913.1L401.6 912.2L402.3 911.3L402.9 910.5L403.6 909.6L404.2 908.8L404.8 907.9L405.4 907.1L406.0 906.3L406.6 905.6L407.2 904.9L407.7 904.2L408.2 903.5L408.7 902.9L409.2 902.3L409.6 901.7L410.1 901.1L410.6 900.4L411.1 899.8L411.6 899.1L412.1 898.5L412.7 897.7L413.3 897.0L413.9 896.1L414.6 895.3L415.3 894.5L416.0 893.6L416.7 892.7L417.4 891.8L418.1 890.9L418.8 890.0L419.5 889.2L420.2 888.3L420.9 887.5L421.6 886.7L422.3 886.0L422.9 885.2L423.6 884.4L424.3 883.7L424.9 883.0L425.6 882.2L426.3 881.5L427.0 880.8L427.7 880.0L428.4 879.3L429.1 878.5L429.8 877.8L430.6 877.0L431.4 876.2L432.2 875.4L433.0 874.6L433.8 873.8L434.6 873.1L435.4 872.3L436.2 871.5L437.0 870.7L437.8 870.0L438.5 869.3L439.2 868.5L439.9 867.8L440.6 867.2L441.2 866.5L441.9 865.9L442.5 865.2L443.1 864.5L443.8 863.9L444.5 863.2L445.1 862.5L445.9 861.8L446.6 861.1L447.4 860.3L448.2 859.5L449.0 858.6L449.8 857.8L450.7 857.0L451.6 856.1L452.4 855.2L453.3 854.4L454.2 853.5L455.1 852.7L456.0 851.8L456.9 851.0L457.8 850.2L458.7 849.4L459.6 848.6L460.5 847.8L461.4 847.1L462.3 846.3L463.3 845.5L464.2 844.8L465.1 844.0L466.0 843.3L467.0 842.6L467.9 841.9L468.8 841.1L469.8 840.4L470.7 839.8L471.7 839.1L472.6 838.4L473.5 837.8L474.5 837.1L475.4 836.4L476.4 835.8L477.4 835.2L478.3 834.5L479.3 833.9L480.3 833.2L481.2 832.6L482.2 832.0L483.2 831.4L484.2 830.8L485.2 830.2L486.2 829.6L487.2 829.0L488.2 828.4L489.2 827.8L490.2 827.2L491.2 826.5L492.2 825.9L493.3 825.3L494.3 824.7L495.4 824.1L496.4 823.4L497.5 822.8L498.5 822.2L499.6 821.6L500.7 820.9L501.8 820.3L502.8 819.7L503.9 819.0L505.0 818.4L506.1 817.7L507.1 817.1L508.2 816.4L509.3 815.8L510.4 815.1L511.5 814.5L512.6 813.8L513.7 813.2L514.8 812.5L515.9 811.8L517.0 811.2L518.1 810.5L519.2 809.9L520.3 809.2L521.4 808.6L522.4 807.9L523.5 807.3L524.6 806.6L525.7 806.0L526.8 805.3L527.9 804.7L528.9 804.0L530.0 803.4L531.1 802.7L532.1 802.1L533.2 801.5L534.2 800.8L535.3 800.2L536.3 799.6L537.4 799.0L538.4 798.3L539.5 797.6L540.6 797.0L541.6 796.3L542.7 795.5L543.8 794.8L544.8 794.1L545.9 793.3L547.0 792.5L548.1 791.7L549.2 790.9L550.2 790.1L551.3 789.3L552.4 788.4L553.5 787.5L554.7 786.6L555.8 785.6L557.0 784.6L558.1 783.6L559.4 782.5L560.6 781.4L561.8 780.2L563.0 779.1L564.3 777.9L565.5 776.7L566.7 775.5L567.9 774.4L569.0 773.2L570.1 772.1L571.1 771.0L572.1 769.9L573.1 768.9L574.0 767.9L574.9 766.8L575.9 765.8L576.8 764.8L577.7 763.7L578.6 762.5L579.6 761.3L580.6 760.0L581.6 758.6L582.7 757.1L583.9 755.4L585.1 753.7L586.3 752.0L587.5 750.1L588.8 748.3L590.0 746.4L591.3 744.5L592.5 742.6L593.7 740.7L594.8 738.9L595.9 737.1L596.9 735.4L597.9 733.8L598.8 732.2L599.7 730.6L600.6 729.0L601.4 727.5L602.3 725.9L603.2 724.2L604.1 722.5L605.0 720.7L605.9 718.9L606.9 716.9L607.9 714.8L609.0 712.7L610.1 710.4L611.2 708.1L612.3 705.7L613.5 703.3L614.6 700.9L615.8 698.4L616.9 695.9L618.1 693.3L619.3 690.8L620.4 688.2L621.6 685.5L622.9 682.6L624.2 679.5L625.5 676.4L626.9 673.2L628.2 670.1L629.5 667.0L630.7 664.1L631.8 661.5L632.8 659.1L633.6 657.1L634.3 655.5" fill="none" stroke="#000" stroke-width="3.0" stroke-linejoin="round" stroke-linecap="round"/>
<!-- circuit -->
<path d="M109.9 86.1 L119.8 86.1" stroke="#111" stroke-width="2.4" fill="none" stroke-linejoin="miter"/>
<path d="M119.8 86.1 L123.5 78.1 L131.0 94.1 L138.5 78.1 L145.9 94.1 L153.4 78.1 L160.9 94.1 L164.6 86.1" stroke="#111" stroke-width="2.4" fill="none" stroke-linejoin="miter"/>
<path d="M164.6 86.1 L194.6 86.1" stroke="#111" stroke-width="2.4" fill="none" stroke-linejoin="miter"/>
<path d="M201 86.1 L216.2 86.1" stroke="#111" stroke-width="2.4" fill="none" stroke-linejoin="miter"/>
<path d="M216.2 86.1 L220.0 78.1 L227.6 94.1 L235.3 78.1 L242.9 94.1 L250.5 78.1 L258.2 94.1 L262.0 86.1" stroke="#111" stroke-width="2.4" fill="none" stroke-linejoin="miter"/>
<path d="M262 86.1 L277.5 86.1 L277.5 130.6 L198 130.6 L198 88.9" stroke="#111" stroke-width="2.4" fill="none" stroke-linejoin="miter"/>
<path d="M227.8 121.3 L238.2 130.6 L227.8 139.9 M235 121.3 L245.4 130.6 L235 139.9" stroke="#111" stroke-width="2.4" fill="none" stroke-linejoin="miter"/>
<path d="M277.5 86.1 L288.4 86.1" stroke="#111" stroke-width="2.4" fill="none" stroke-linejoin="miter"/>
<path d="M294.4 86.1 L308.6 86.1" stroke="#111" stroke-width="2.4" fill="none" stroke-linejoin="miter"/>
<path d="M308.6 86.1 L312.5 78.1 L320.2 94.1 L327.9 78.1 L335.7 94.1 L343.4 78.1 L351.1 94.1 L355.0 86.1" stroke="#111" stroke-width="2.4" fill="none" stroke-linejoin="miter"/>
<path d="M355 86.1 L391.8 86.1" stroke="#111" stroke-width="2.4" fill="none" stroke-linejoin="miter"/>
<path d="M370 86.1 L370 130.6 L291.2 130.6 L291.2 88.9" stroke="#111" stroke-width="2.4" fill="none" stroke-linejoin="miter"/>
<path d="M320.7 121.3 L331.1 130.6 L320.7 139.9 M327.7 121.3 L338.1 130.6 L327.7 139.9" stroke="#111" stroke-width="2.4" fill="none" stroke-linejoin="miter"/>
<rect x="391.8" y="77" width="46" height="18.4" stroke="#111" stroke-width="2.4" fill="none" stroke-linejoin="miter"/>
<path d="M437.8 86.1 L452.1 86.1" stroke="#111" stroke-width="2.4" fill="none" stroke-linejoin="miter"/>
<path d="M458.5 86.1 L469.7 86.1 M469.7 75.5 L469.7 96.3 M478.1 75.5 L478.1 96.3 M478.1 86.1 L489.0 86.1" stroke="#111" stroke-width="2.4" fill="none" stroke-linejoin="miter"/>
<circle cx="106.7" cy="86.1" r="3.2" stroke="#111" stroke-width="2.5" fill="none" stroke-linejoin="miter"/>
<circle cx="197.8" cy="86.1" r="3.2" stroke="#111" stroke-width="2.5" fill="none" stroke-linejoin="miter"/>
<circle cx="291.2" cy="86.1" r="3.2" stroke="#111" stroke-width="2.5" fill="none" stroke-linejoin="miter"/>
<circle cx="455.3" cy="86.1" r="3.2" stroke="#111" stroke-width="2.5" fill="none" stroke-linejoin="miter"/>
<circle cx="492.2" cy="86.1" r="3.2" stroke="#111" stroke-width="2.5" fill="none" stroke-linejoin="miter"/>
<text x="128.6" y="62.7" font-size="23.5" font-family="Liberation Sans, sans-serif" fill="#111">R<tspan font-size="17.2" dy="4.0">e</tspan></text>
<text x="204.6" y="62.7" font-size="23.5" font-family="Liberation Sans, sans-serif" fill="#111">R<tspan font-size="17.2" dy="4.0">(sf+ct)</tspan></text>
<text x="318.6" y="62.7" font-size="23.5" font-family="Liberation Sans, sans-serif" fill="#111">R<tspan font-size="17.2" dy="4.0">b</tspan></text>
<text x="396.9" y="62.7" font-size="23.5" font-family="Liberation Sans, sans-serif" fill="#111">W<tspan font-size="17.2" dy="4.0">s</tspan></text>
<text x="452.3" y="62.7" font-size="23.5" font-family="Liberation Sans, sans-serif" fill="#111">C<tspan font-size="17.2" dy="4.0">int</tspan></text>
<text x="186.5" y="170.5" font-size="25.0" font-family="Liberation Sans, sans-serif" fill="#111">CPE<tspan font-size="17.2" dy="4.0">(sf+dl)</tspan></text>
<text x="302.8" y="170.5" font-size="25.0" font-family="Liberation Sans, sans-serif" fill="#111">CPE<tspan font-size="17.2" dy="4.0">b</tspan></text>
<!-- legends and labels -->
<circle cx="134.8" cy="280.2" r="4.8" fill="#f00000"/>
<rect x="130.7" y="304.0" width="8.2" height="8.2" fill="#0000f0"/>
<line x1="109" y1="343.4" x2="162" y2="343.4" stroke="#000" stroke-width="3"/>
<text x="167" y="288.4" font-size="22.4" font-family="Liberation Sans, sans-serif">ATHMSs</text>
<text x="167" y="316.2" textLength="262.6" lengthAdjust="spacingAndGlyphs" font-size="22" font-family="Liberation Sans, sans-serif">Anatase TiO<tspan font-size="14" dy="9.3">2</tspan><tspan dy="-9.3"> nanoparticles</tspan></text>
<text x="167" y="351.8" font-size="22" font-family="Liberation Sans, sans-serif">fitted</text>
<circle cx="183.4" cy="728.0" r="4.75" fill="#f00000"/>
<rect x="179.1" y="752.0" width="8.2" height="8.2" fill="#0000f0"/>
<line x1="158" y1="792" x2="210" y2="792" stroke="#000" stroke-width="3"/>
<text x="215" y="735.8" font-size="22.4" font-family="Liberation Sans, sans-serif">ATHMSs</text>
<text x="215" y="764.3" textLength="262.6" lengthAdjust="spacingAndGlyphs" font-size="22" font-family="Liberation Sans, sans-serif">Anatase TiO<tspan font-size="14" dy="9.3">2</tspan><tspan dy="-9.3"> nanoparticles</tspan></text>
<text x="215" y="799.6" font-size="22" font-family="Liberation Sans, sans-serif">fitted</text>
<text x="370.7" y="517" text-anchor="middle" font-size="24.6" font-family="Liberation Sans, sans-serif">Z'/ Ω</text>
<text x="370.7" y="1041" text-anchor="middle" font-size="24.6" font-family="Liberation Sans, sans-serif">Z'/ Ω</text>
<text transform="translate(27.4 243.5) rotate(-90)" text-anchor="middle" font-size="25.3" font-family="Liberation Sans, sans-serif">-Z"/ Ω</text>
<text transform="translate(27.4 767.5) rotate(-90)" text-anchor="middle" font-size="25.3" font-family="Liberation Sans, sans-serif">-Z"/ Ω</text>
<text x="4.6" y="23.8" font-size="22" font-family="Liberation Sans, sans-serif">(a)</text>
<text x="4.6" y="547.8" font-size="22" font-family="Liberation Sans, sans-serif">(b)</text>
</svg>
</body></html>
